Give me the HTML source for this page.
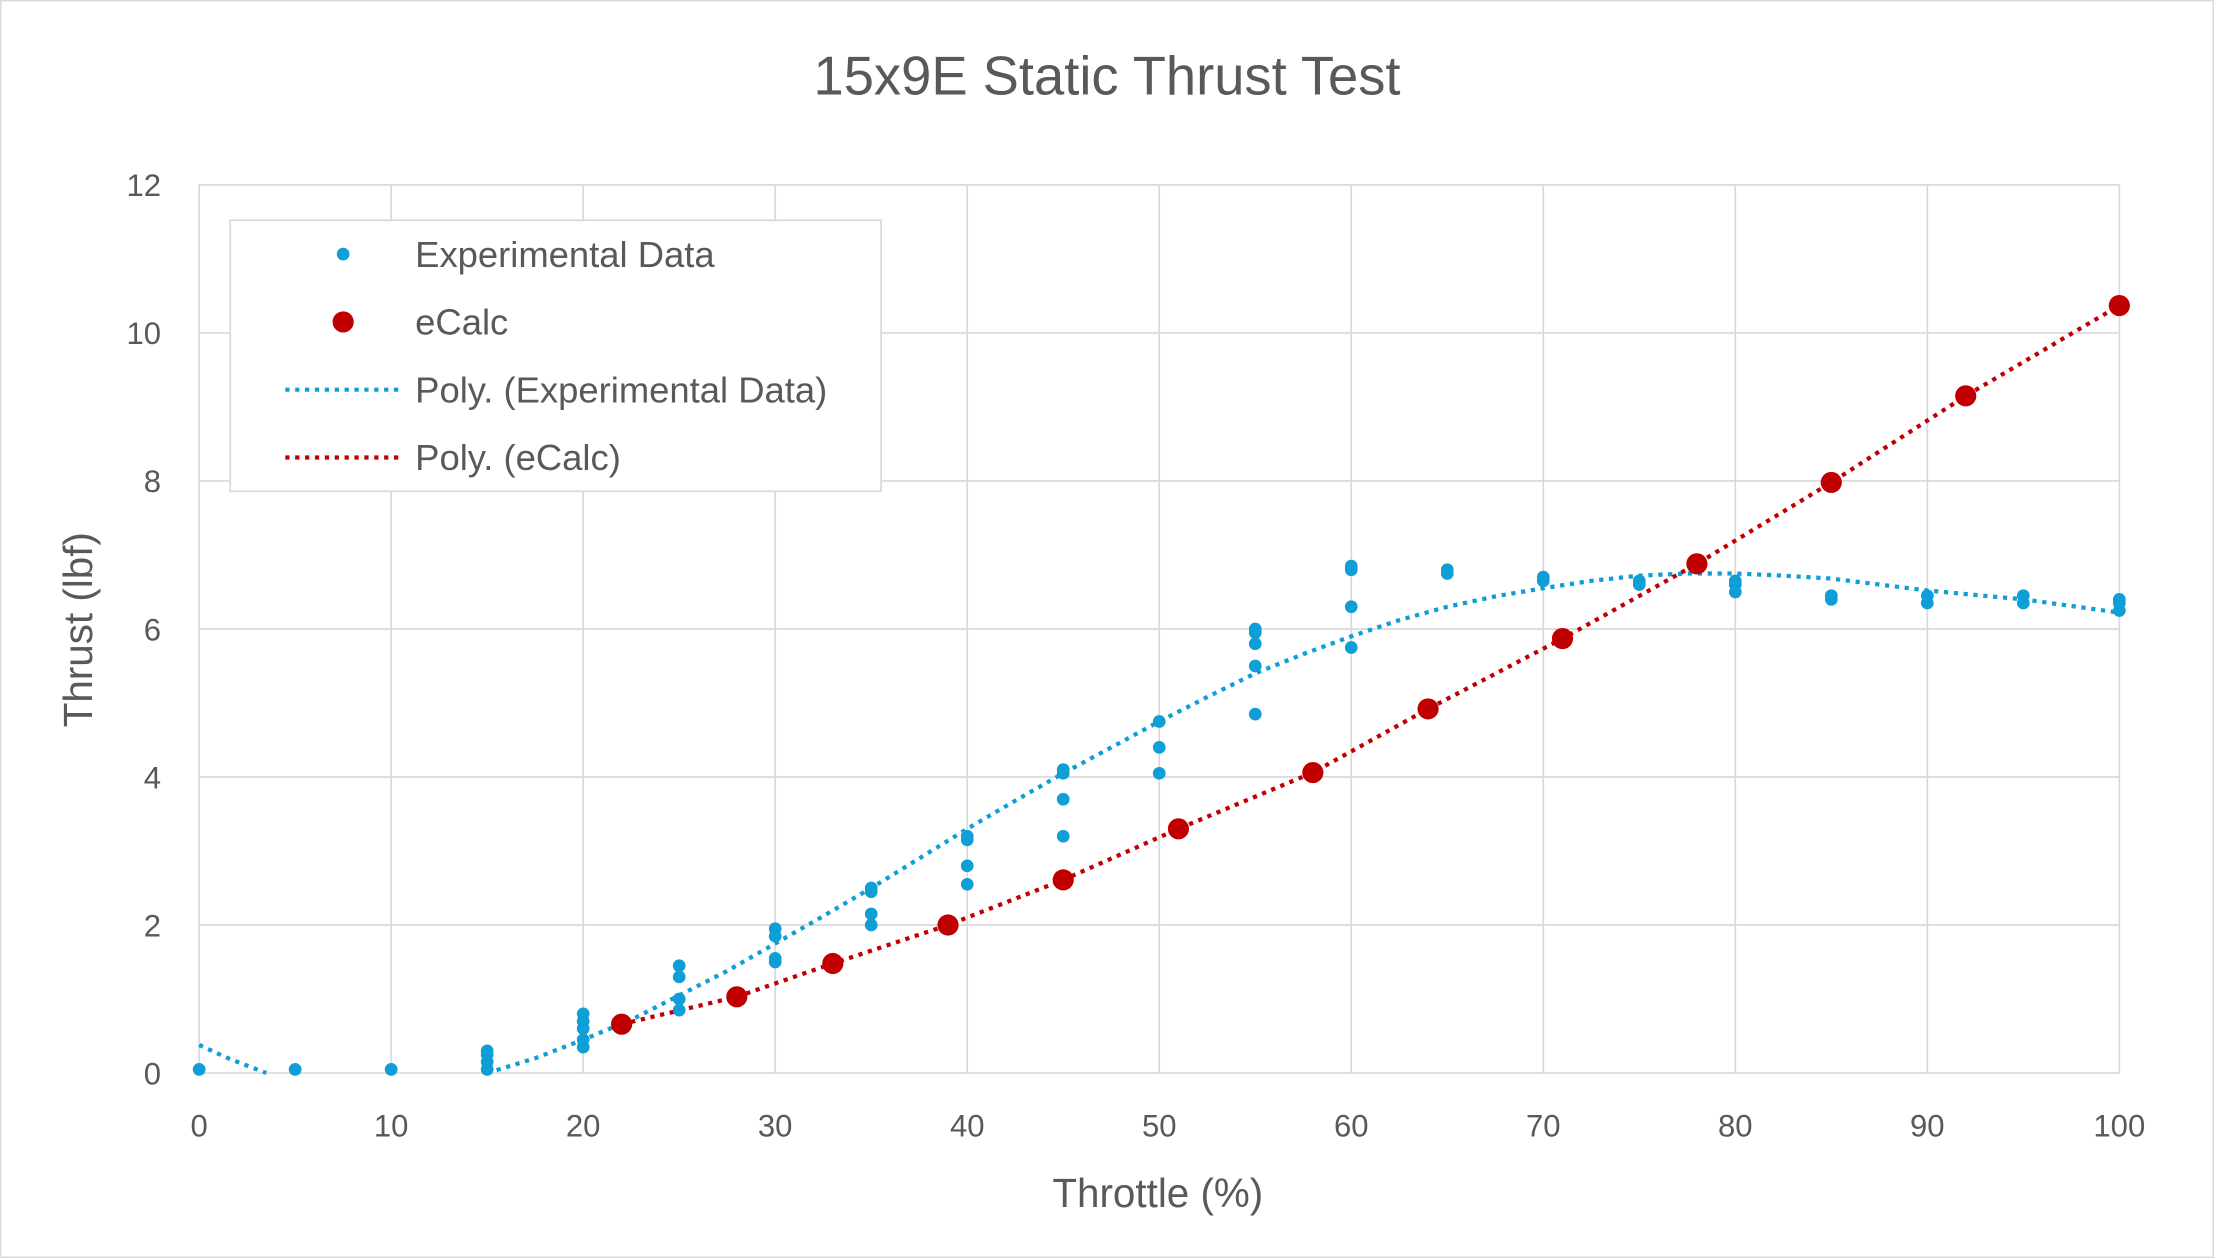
<!DOCTYPE html>
<html><head><meta charset="utf-8"><style>
html,body{margin:0;padding:0;background:#fff;}
svg{display:block;font-family:"Liberation Sans",sans-serif;}
</style></head><body>
<svg id="s" width="2214" height="1258" viewBox="0 0 1568 891" xmlns="http://www.w3.org/2000/svg">
<rect x="0.5" y="0.5" width="1567" height="890" fill="#fff" stroke="#d9d9d9"/>
<g id="grid" stroke="#d9d9d9" stroke-width="1.2"></g>
<text x="784" y="67" text-anchor="middle" font-size="38.5" fill="#595959">15x9E Static Thrust Test</text>
<g id="lbl" font-size="22" fill="#595959"></g>
<text x="820" y="855" text-anchor="middle" font-size="28.6" fill="#595959">Throttle (%)</text>
<text transform="translate(65,446) rotate(-90)" text-anchor="middle" font-size="28.6" fill="#595959">Thrust (lbf)</text>
<g id="series"></g>
<rect x="163" y="156" width="461" height="192" fill="#fff" stroke="#d9d9d9" stroke-width="1.2"/>
<circle cx="243" cy="180" r="4.5" fill="#0f9ed5"/>
<text x="294" y="189" font-size="25.8" fill="#595959">Experimental Data</text>
<circle cx="243" cy="228" r="7.5" fill="#c00000"/>
<text x="294" y="237" font-size="25.8" fill="#595959">eCalc</text>
<line x1="202" y1="276" x2="285" y2="276" stroke="#0f9ed5" stroke-width="3" stroke-dasharray="3,4"/>
<text x="294" y="285" font-size="25.8" fill="#595959">Poly. (Experimental Data)</text>
<line x1="202" y1="324" x2="285" y2="324" stroke="#c00000" stroke-width="3" stroke-dasharray="3,4"/>
<text x="294" y="333" font-size="25.8" fill="#595959">Poly. (eCalc)</text>
</svg>
<script>
var NS="http://www.w3.org/2000/svg";
function X(v){return 141+v*13.6;}function Y(v){return 760-v*52.42;}
function el(t,a,p){var e=document.createElementNS(NS,t);for(var k in a)e.setAttribute(k,a[k]);if(p)p.appendChild(e);return e;}
var g=document.getElementById("grid"),l=document.getElementById("lbl"),s=document.getElementById("series");
for(var i=0;i<=10;i++){var x=X(i*10);el("line",{x1:x,y1:131,x2:x,y2:760},g);var t=el("text",{x:x,y:805,"text-anchor":"middle"},l);t.textContent=i*10;}
for(var j=0;j<=6;j++){var y=Y(j*2);el("line",{x1:141,y1:y,x2:1501,y2:y},g);var t=el("text",{x:114,y:y+8,"text-anchor":"end"},l);t.textContent=j*2;}
function poly(pts,c){var d=pts.map(function(p,i){return (i?"L":"M")+X(p[0]).toFixed(1)+","+Y(p[1]).toFixed(1);}).join(" ");el("path",{d:d,fill:"none",stroke:c,"stroke-width":3,"stroke-dasharray":"3,4"},s);}
poly([[0,0.38],[1.5,0.2],[3.5,0]],"#0f9ed5");
poly([[15,0],[17.5,0.2],[20,0.45],[22.5,0.72],[25,1.05],[27.5,1.38],[30,1.75],[32.5,2.12],[35,2.5],[37.5,2.9],[40,3.3],[42.5,3.68],[45,4.05],[47.5,4.4],[50,4.75],[52.5,5.08],[55,5.4],[57.5,5.66],[60,5.9],[62.5,6.12],[65,6.3],[67.5,6.44],[70,6.55],[72.5,6.65],[75,6.72],[77.5,6.75],[80,6.75],[82.5,6.72],[85,6.68],[87.5,6.6],[90,6.52],[92.5,6.46],[95,6.4],[97.5,6.31],[100,6.22]],"#0f9ed5");
var ec=[[22,0.66],[28,1.03],[33,1.48],[39,2.0],[45,2.61],[51,3.3],[58,4.06],[64,4.92],[71,5.87],[78,6.88],[85,7.98],[92,9.15],[100,10.37]];
poly(ec,"#c00000");
var ex={0:[0.05],5:[0.05],10:[0.05],15:[0.05,0.15,0.25,0.3],20:[0.35,0.45,0.6,0.7,0.8],25:[0.85,1.0,1.3,1.45],30:[1.5,1.55,1.85,1.95],35:[2.0,2.15,2.45,2.5],40:[2.55,2.8,3.15,3.2],45:[3.2,3.7,4.05,4.1],50:[4.05,4.4,4.75],55:[4.85,5.5,5.8,5.95,6.0],60:[5.75,6.3,6.8,6.85],65:[6.75,6.8],70:[6.65,6.7],75:[6.6,6.65],80:[6.5,6.6,6.65],85:[6.4,6.45],90:[6.35,6.45],95:[6.35,6.45],100:[6.25,6.35,6.4]};
for(var k in ex)ex[k].forEach(function(v){el("circle",{cx:X(+k),cy:Y(v),r:4.5,fill:"#0f9ed5"},s);});
ec.forEach(function(p){el("circle",{cx:X(p[0]),cy:Y(p[1]),r:7.5,fill:"#c00000"},s);});
</script>
</body></html>
